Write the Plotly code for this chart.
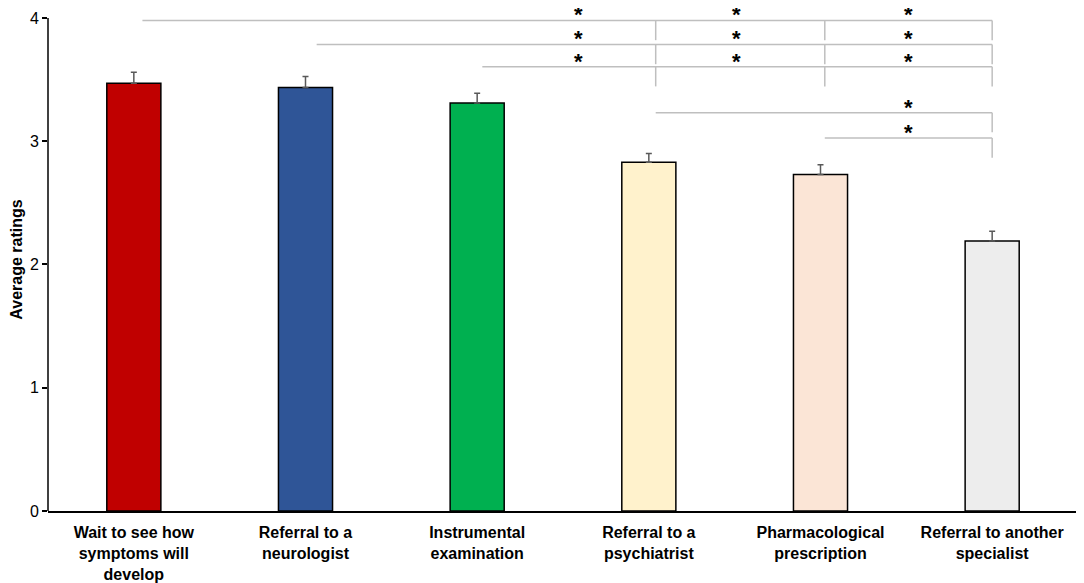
import plotly.graph_objects as go

# ---- data ----
categories = [
    "Wait to see how<br>symptoms will<br>develop",
    "Referral to a<br>neurologist",
    "Instrumental<br>examination",
    "Referral to a<br>psychiatrist",
    "Pharmacological<br>prescription",
    "Referral to another<br>specialist",
]
ratings = [3.47, 3.435, 3.31, 2.83, 2.73, 2.19]
errors = [0.09, 0.09, 0.08, 0.07, 0.08, 0.08]
bar_colors = ["#C00000", "#2F5597", "#00B050", "#FFF2CC", "#FBE5D6", "#EDEDED"]

# significance brackets: (start category, drop categories, level)
brackets = [
    (0, [3, 4, 5], 3.98),
    (1, [3, 4, 5], 3.785),
    (2, [3, 4, 5], 3.605),
    (3, [5], 3.232),
    (4, [5], 3.026),
]
drop_len = 0.16
anchor_off = [0.05, 0.065, 0.03, 0.04, 0.025, 0.0]

x_idx = list(range(len(categories)))
FONT = "Arial, Liberation Sans"

fig = go.Figure()
fig.add_trace(go.Bar(
    x=x_idx, y=ratings, width=0.315,
    marker=dict(color=bar_colors, line=dict(color="black", width=1.5)),
    error_y=dict(type="data", array=errors, symmetric=False, arrayminus=[0]*6,
                 color="#595959", thickness=1.5, width=3),
    showlegend=False,
))

shapes = []
annotations = []
line_style = dict(color="#BFBFBF", width=1.5)
for start, drops, level in brackets:
    end = max(drops)
    shapes.append(dict(type="line", xref="x", yref="y",
                       x0=start + anchor_off[start], x1=end + anchor_off[end],
                       y0=level, y1=level, line=line_style))
    for d in drops:
        shapes.append(dict(type="line", xref="x", yref="y",
                           x0=d + anchor_off[d], x1=d + anchor_off[d],
                           y0=level, y1=level - drop_len, line=line_style))
        if start < 3 and d == 3:
            ax = 2.59
        else:
            ax = d - 0.49
        annotations.append(dict(x=ax, y=level, xref="x", yref="y", text="<b>*</b>",
                                showarrow=False, yanchor="bottom", yshift=-9,
                                font=dict(size=22, color="black", family=FONT)))

# y axis line only up to 4
shapes.append(dict(type="line", xref="paper", yref="y", x0=0, x1=0, y0=0, y1=4,
                   line=dict(color="black", width=1.5)))

fig.update_layout(
    width=1076, height=575,
    margin=dict(l=40, r=6, t=0, b=72),
    plot_bgcolor="white", paper_bgcolor="white",
    font=dict(family=FONT, color="black"),
    shapes=shapes, annotations=annotations,
    xaxis=dict(range=[-0.5, 5.5], tickvals=x_idx, ticktext=categories,
               showline=True, linecolor="black", linewidth=1.5,
               ticks="", showgrid=False, zeroline=False, automargin=False,
               tickfont=dict(size=16, family=FONT, color="black", weight="bold"),
               ticklabelstandoff=6),
    yaxis=dict(range=[0, 4.081], tickvals=[0, 1, 2, 3, 4], showline=False,
               ticks="outside", ticklen=5, tickcolor="black", tickwidth=1.5,
               showgrid=False, zeroline=False, automargin=False,
               tickfont=dict(size=16, color="black"),
               title=dict(text="<b>Average ratings</b>", font=dict(size=16), standoff=4)),
)

fig.write_html("out.html")
